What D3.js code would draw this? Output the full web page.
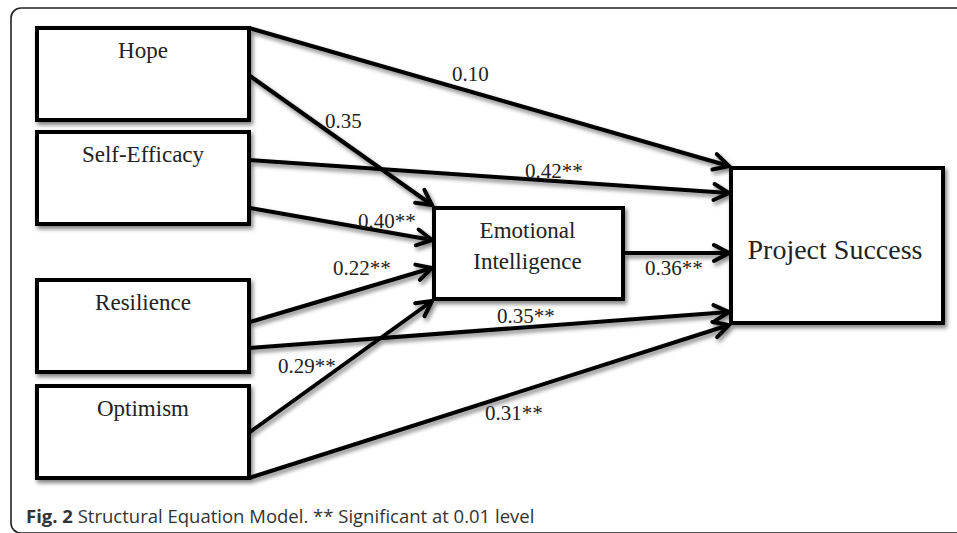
<!DOCTYPE html>
<html>
<head>
<meta charset="utf-8">
<script src="https://cdnjs.cloudflare.com/ajax/libs/d3/7.8.5/d3.min.js"></script>
<style>
  body { margin: 0; background: #fff; overflow: hidden; }
  svg { display: block; }
</style>
</head>
<body>
<svg width="957" height="533"></svg>
<script>
// path model data
var predictors = ["Hope", "Self-Efficacy", "Resilience", "Optimism"];
var mediatorLines = ["Emotional", "Intelligence"];
var outcome = "Project Success";
var coefToEI = [0.35, 0.40, 0.22, 0.29];
var sigToEI = [false, true, true, true];
var coefToPS = [0.10, 0.42, 0.35, 0.31];
var sigToPS = [false, true, true, true];
var coefEIPS = 0.36, sigEIPS = true;
var caption = ["Fig. 2", " Structural Equation Model. ** Significant at 0.01 level"];

// layout (pixels)
var boxX = 37, boxW = 212, boxH = 92;
var rowTop = [28, 132, 280, 386];
var ei = {x: 434, y: 208, w: 189, h: 91};
var ps = {x: 731, y: 168, w: 212, h: 155};
// where the arrows leave / meet the boxes (offsets from box tops)
var outPS = [0, 28, 68, 92], outEI = [48, 76, 42, 46];
var inEI = [-3, 32, 60, 93], inPS = [-2, 25, 144, 157], inEIPS = 45;
var labEI = [[325, 128], [358, 228], [333, 275], [278, 373]];
var labPS = [[452, 81], [525, 178], [497, 323], [485, 420]];
var labEIPS = [645, 275];

var svg = d3.select("svg"),
    width = +svg.attr("width"),
    height = +svg.attr("height");

var fmt = d3.format(".2f");
function lab(v, s) { return fmt(v) + (s ? "**" : ""); }

var defs = svg.append("defs");
var filter = defs.append("filter")
    .attr("id", "drop-shadow")
    .attr("x", "-10%").attr("y", "-10%")
    .attr("width", "130%").attr("height", "140%");
filter.append("feGaussianBlur")
    .attr("in", "SourceAlpha")
    .attr("stdDeviation", 2)
    .attr("result", "blur");
filter.append("feOffset")
    .attr("in", "blur")
    .attr("dx", 2).attr("dy", 3)
    .attr("result", "offsetBlur");
filter.append("feComponentTransfer")
    .attr("in", "offsetBlur")
    .attr("result", "shadow")
  .append("feFuncA").attr("type", "linear").attr("slope", 0.5);
var feMerge = filter.append("feMerge");
feMerge.append("feMergeNode").attr("in", "shadow");
feMerge.append("feMergeNode").attr("in", "SourceGraphic");

defs.append("marker")
    .attr("id", "arrow")
    .attr("markerUnits", "userSpaceOnUse")
    .attr("viewBox", "-20 -12 24 24")
    .attr("markerWidth", 24).attr("markerHeight", 24)
    .attr("refX", 0).attr("refY", 0)
    .attr("orient", "auto")
  .append("path")
    .attr("d", "M-15,-8L0,0L-15,8")
    .attr("fill", "none")
    .attr("stroke", "#000")
    .attr("stroke-width", 4)
    .attr("stroke-linejoin", "miter")
    .attr("stroke-linecap", "round");

// outer frame (only top-left part visible)
svg.append("rect")
    .attr("x", 11).attr("y", 8)
    .attr("width", 1200).attr("height", 525)
    .attr("rx", 10)
    .attr("fill", "none")
    .attr("stroke", "#222")
    .attr("stroke-width", 1.6);

// edges
var edges = [];
predictors.forEach(function(p, i) {
  edges.push({x1: boxX + boxW, y1: rowTop[i] + outPS[i], x2: ps.x - 2, y2: ps.y + inPS[i],
              text: lab(coefToPS[i], sigToPS[i]), lx: labPS[i][0], ly: labPS[i][1]});
  edges.push({x1: boxX + boxW + 1, y1: rowTop[i] + outEI[i], x2: ei.x - 2, y2: ei.y + inEI[i],
              text: lab(coefToEI[i], sigToEI[i]), lx: labEI[i][0], ly: labEI[i][1]});
});
edges.push({x1: ei.x + ei.w, y1: ei.y + inEIPS, x2: ps.x - 2, y2: ei.y + inEIPS,
            text: lab(coefEIPS, sigEIPS), lx: labEIPS[0], ly: labEIPS[1]});

var g = svg.append("g").style("filter", "url(#drop-shadow)");

g.selectAll("line.edge")
  .data(edges)
  .enter().append("line")
    .attr("class", "edge")
    .attr("x1", function(d) { return d.x1; })
    .attr("y1", function(d) { return d.y1; })
    .attr("x2", function(d) { return d.x2; })
    .attr("y2", function(d) { return d.y2; })
    .attr("stroke", "#000")
    .attr("stroke-width", 4)
    .attr("marker-end", "url(#arrow)");

// boxes
var boxes = predictors.map(function(p, i) {
  return {x: boxX, y: rowTop[i], w: boxW, h: boxH};
});
boxes.push(ei, ps);

g.selectAll("rect.box")
  .data(boxes)
  .enter().append("rect")
    .attr("class", "box")
    .attr("x", function(d) { return d.x; })
    .attr("y", function(d) { return d.y; })
    .attr("width", function(d) { return d.w; })
    .attr("height", function(d) { return d.h; })
    .attr("fill", "#fff")
    .attr("stroke", "#000")
    .attr("stroke-width", 4);

// box labels
var serif = "'Liberation Serif', 'Times New Roman', serif";
svg.selectAll("text.pred")
  .data(predictors)
  .enter().append("text")
    .attr("class", "pred")
    .attr("x", boxX + boxW / 2)
    .attr("y", function(d, i) { return rowTop[i] + 30; })
    .attr("text-anchor", "middle")
    .style("font-family", serif)
    .style("font-size", "23px")
    .attr("fill", "#222")
    .text(function(d) { return d; });

svg.selectAll("text.med")
  .data(mediatorLines)
  .enter().append("text")
    .attr("class", "med")
    .attr("x", ei.x + ei.w / 2 - 1)
    .attr("y", function(d, i) { return ei.y + 30 + i * 31; })
    .attr("text-anchor", "middle")
    .style("font-family", serif)
    .style("font-size", "23px")
    .attr("fill", "#222")
    .text(function(d) { return d; });

svg.append("text")
    .attr("x", ps.x + ps.w / 2 - 2)
    .attr("y", ps.y + 91)
    .attr("text-anchor", "middle")
    .style("font-family", serif)
    .style("font-size", "28px")
    .attr("fill", "#222")
    .text(outcome);

// coefficient labels
svg.selectAll("text.coef")
  .data(edges)
  .enter().append("text")
    .attr("class", "coef")
    .attr("x", function(d) { return d.lx; })
    .attr("y", function(d) { return d.ly; })
    .style("font-family", serif)
    .style("font-size", "21px")
    .attr("fill", "#222")
    .text(function(d) { return d.text; });

// caption
var cap = svg.append("text")
    .attr("x", 26)
    .attr("y", 523)
    .style("font-family", "'Open Sans', sans-serif")
    .style("font-size", "18.5px")
    .attr("fill", "#333");
cap.append("tspan").style("font-weight", "bold").text(caption[0]);
cap.append("tspan").text(caption[1]);
</script>
</body>
</html>
